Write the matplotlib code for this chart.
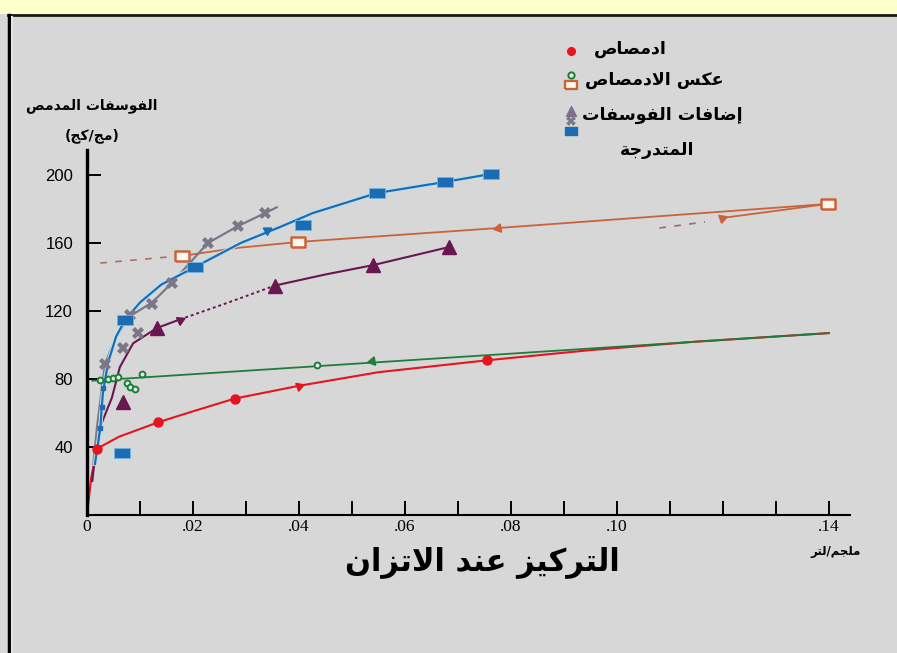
import matplotlib
matplotlib.use("Agg")
import matplotlib.pyplot as plt
from matplotlib.lines import Line2D
from matplotlib.patches import Rectangle
import matplotlib.patheffects as pe

# ---------------- Arabic shaping (presentation forms, visual order) ----------------
FORMS = {
    'ا': ('\uFE8D', '\uFE8E', None, None),
    'إ': ('\uFE87', '\uFE88', None, None),
    'د': ('\uFEA9', '\uFEAA', None, None),
    'ر': ('\uFEAD', '\uFEAE', None, None),
    'ز': ('\uFEAF', '\uFEB0', None, None),
    'و': ('\uFEED', '\uFEEE', None, None),
    'ة': ('\uFE93', '\uFE94', None, None),
    'ج': ('\uFE9D', '\uFE9E', '\uFE9F', '\uFEA0'),
    'ت': ('\uFE95', '\uFE96', '\uFE97', '\uFE98'),
    'س': ('\uFEB1', '\uFEB2', '\uFEB3', '\uFEB4'),
    'ص': ('\uFEB9', '\uFEBA', '\uFEBB', '\uFEBC'),
    'ض': ('\uFEBD', '\uFEBE', '\uFEBF', '\uFEC0'),
    'ع': ('\uFEC9', '\uFECA', '\uFECB', '\uFECC'),
    'ف': ('\uFED1', '\uFED2', '\uFED3', '\uFED4'),
    'ك': ('\uFED9', '\uFEDA', '\uFEDB', '\uFEDC'),
    'ل': ('\uFEDD', '\uFEDE', '\uFEDF', '\uFEE0'),
    'م': ('\uFEE1', '\uFEE2', '\uFEE3', '\uFEE4'),
    'ن': ('\uFEE5', '\uFEE6', '\uFEE7', '\uFEE8'),
    'ي': ('\uFEF1', '\uFEF2', '\uFEF3', '\uFEF4'),
}
LAM_ALEF = {'ا': ('\uFEFB', '\uFEFC'), 'إ': ('\uFEF9', '\uFEFA')}
MIRROR = {'(': ')', ')': '('}


def shape(text):
    units = []
    i = 0
    while i < len(text):
        c = text[i]
        if c == 'ل' and i + 1 < len(text) and text[i + 1] in LAM_ALEF:
            iso, fin = LAM_ALEF[text[i + 1]]
            units.append(('LA', (iso, fin, None, None)))
            i += 2
            continue
        units.append((c, FORMS.get(c)))
        i += 1
    out = []
    for k, (c, f) in enumerate(units):
        if f is None:
            out.append(MIRROR.get(c, c))
            continue
        prev = units[k - 1][1] if k > 0 else None
        nxt = units[k + 1][1] if k + 1 < len(units) else None
        join_prev = prev is not None and prev[2] is not None
        join_next = f[2] is not None and nxt is not None
        if join_prev and join_next:
            g = f[3]
        elif join_prev:
            g = f[1]
        elif join_next:
            g = f[2]
        else:
            g = f[0]
        out.append(g)
    return ''.join(reversed(out))


# ---------------- data ----------------
# adsorption (red)
ads_x = [0.0019, 0.0134, 0.0279, 0.0755]
ads_y = [39, 54.5, 68.5, 91]
ads_curve_x = [0.0, 0.0008, 0.0019, 0.006, 0.0134, 0.020, 0.0279, 0.040, 0.055, 0.0755, 0.095, 0.115, 0.140]
ads_curve_y = [0, 22, 39, 46, 54.5, 61, 68.5, 76, 84, 91, 97, 102, 107]

# desorption (green)
des_x = [0.00245, 0.0040, 0.0049, 0.0058, 0.0104, 0.0075, 0.0081, 0.0091, 0.0434]
des_y = [79.4, 80.0, 80.6, 81.2, 82.9, 77.6, 75.3, 74.1, 88.2]
des_line_x = [0.001, 0.140]
des_line_y = [79, 107]

# desorption after additions (orange)
ord_x = [0.0179, 0.0398, 0.1398]
ord_y = [152.4, 160.6, 183]
ord_dash_x = [0.0025, 0.0175]
ord_dash_y = [148.2, 152.4]
ord_line_x = [0.0179, 0.028, 0.0398, 0.0775, 0.1398]
ord_line_y = [152.4, 157, 160.6, 168.8, 183]
ord_low_dash_x = [0.108, 0.1166]
ord_low_dash_y = [168.8, 172.4]
ord_low_x = [0.1198, 0.1398]
ord_low_y = [174.7, 183]

# phosphate additions (purple triangles)
add_x = [0.0068, 0.0132, 0.0355, 0.054, 0.0683]
add_y = [66.5, 110, 135, 147, 157.6]
add_curve_x = [0.001, 0.0015, 0.0025, 0.0047, 0.0062, 0.0087, 0.0132, 0.0175]
add_curve_y = [20, 34, 52, 69, 87, 101, 110, 115]
add_dot_x = [0.0175, 0.0264, 0.0355]
add_dot_y = [115, 124.7, 135]
add_tail_x = [0.0355, 0.045, 0.054, 0.0683]
add_tail_y = [135, 141.5, 147, 157.6]

# phosphate additions (gray crosses)
crs_x = [0.0034, 0.0068, 0.0081, 0.0096, 0.0123, 0.016, 0.0228, 0.0285, 0.0336]
crs_y = [89, 98, 117.6, 107, 124.1, 136.5, 160, 170, 177.6]
crs_curve_x = [0.0012, 0.0019, 0.0034, 0.0055, 0.0081, 0.0123, 0.016, 0.0228, 0.0285, 0.0336, 0.0358]
crs_curve_y = [30, 52, 89, 105, 117, 125, 136.5, 160, 170, 177.6, 181]

# graded (blue)
grd_x = [0.0066, 0.0072, 0.0204, 0.0408, 0.0547, 0.0675, 0.0762]
grd_y = [36.5, 114.7, 145.9, 170.6, 189.4, 195.9, 200.6]
grd_small_x = [0.0025, 0.0028, 0.0030]
grd_small_y = [51, 63.5, 74.7]
grd_curve_x = [0.0015, 0.0025, 0.0030, 0.0040, 0.0055, 0.0072, 0.0100, 0.0140, 0.0204,
               0.0290, 0.0364, 0.0426, 0.0547, 0.0675, 0.0762]
grd_curve_y = [30, 51, 72, 90, 105, 114.7, 125, 135.5, 145.9, 160, 169.4, 177.6, 189.4, 195.9, 200.6]

# direction arrowheads along curves: (x, y, angle in degrees)
arrows_red = [(0.040, 76, 20)]
arrows_green = [(0.0538, 90.5, 190)]
arrows_orange = [(0.0775, 168.8, 190), (0.1198, 174.7, 20)]
arrows_purple = [(0.0175, 115, 25)]
arrows_blue = [(0.034, 167.5, 30)]

x_ticks = [0.01 * i for i in range(1, 15)]
x_tick_labels = {0.0: '0', 0.02: '.02', 0.04: '.04', 0.06: '.06', 0.08: '.08', 0.10: '.10', 0.14: '.14'}
y_ticks = [40, 80, 120, 160, 200]

legend_rows = ['ادمصاص', 'عكس الادمصاص', 'إضافات الفوسفات', 'المتدرجة']
y_title = ['الفوسفات المدمص', '(مج/كج)']
x_title = 'التركيز عند الاتزان'
x_unit = 'ملجم/لتر'

# ---------------- colours ----------------
RED = '#E5141F'
GREEN = '#1F7D3C'
ORANGE = '#C9633A'
PURPLE = '#6A1650'
GRAY = '#7B7787'
BLUE = '#1A6CB3'
BG = '#D7D7D7'

W, H = 897, 653
fig = plt.figure(figsize=(W / 100, H / 100), dpi=100, facecolor=BG)


def fx(px):
    return px / W


def fy(py):
    return 1 - py / H


# frame decoration
fig.patches.append(Rectangle((0, fy(14)), 1, 14 / H, transform=fig.transFigure,
                             facecolor='#FFFFCC', edgecolor='none', zorder=0))
fig.add_artist(Line2D([fx(8), 1], [fy(15), fy(15)], color='#1A1A10', lw=2.0))
fig.add_artist(Line2D([fx(8.5), fx(8.5)], [0, fy(15)], color='black', lw=2.5))
fig.add_artist(Line2D([fx(12), fx(12)], [0, fy(17)], color='#E6E6E6', lw=1.5))

# axes: x from 0 (px 87) to 0.144 (px 850); y from 0 (px 515) to 215 (px 150)
x0, x1, y0, y1 = 87, 850, 515, 150
ax = fig.add_axes([fx(x0), fy(y0), (x1 - x0) / W, (y0 - y1) / H])
ax.set_facecolor('none')
ax.set_xlim(0, (x1 - x0) / 5300.0)
ax.set_ylim(0, (y0 - y1) / 1.7)
for s in ['top', 'right']:
    ax.spines[s].set_visible(False)
ax.spines['left'].set_linewidth(2.4)
ax.spines['bottom'].set_linewidth(1.5)

ax.set_xticks([0.0] + x_ticks)
labels = []
for t in [0.0] + x_ticks:
    lab = ''
    for k, v in x_tick_labels.items():
        if abs(k - t) < 1e-9:
            lab = v
    labels.append(lab)
ax.set_xticklabels(labels, fontfamily='Liberation Serif', fontsize=12.5)
ax.tick_params(axis='x', direction='in', length=10, width=1.4, pad=3)
ax.xaxis.get_major_ticks()[0].tick1line.set_visible(False)
ax.set_yticks(y_ticks)
ax.set_yticklabels([str(v) for v in y_ticks], fontfamily='Liberation Sans', fontsize=12)
ax.tick_params(axis='y', direction='in', length=10, width=1.4, pad=10)

# ---------------- curves ----------------
halo = [pe.Stroke(linewidth=3.0, foreground='#BFE3F2'), pe.Normal()]
ax.plot(ads_curve_x, ads_curve_y, color=RED, lw=1.5, zorder=2)
ax.plot(des_line_x, des_line_y, color=GREEN, lw=1.3, zorder=2)
ax.plot(ord_dash_x, ord_dash_y, color='#B07060', lw=1.2, ls=(0, (4, 5)), zorder=2)
ax.plot(ord_line_x, ord_line_y, color=ORANGE, lw=1.3, zorder=2)
ax.plot(ord_low_dash_x, ord_low_dash_y, color='#A06A60', lw=1.2, ls=(0, (4, 5)), zorder=2)
ax.plot(ord_low_x, ord_low_y, color=ORANGE, lw=1.3, zorder=2)
ax.plot(add_curve_x, add_curve_y, color=PURPLE, lw=1.5, zorder=2)
ax.plot(add_dot_x, add_dot_y, color=PURPLE, lw=1.4, ls=(0, (1.5, 1.5)), zorder=2)
ax.plot(add_tail_x, add_tail_y, color=PURPLE, lw=1.5, zorder=2)
ax.plot(crs_curve_x, crs_curve_y, color=GRAY, lw=1.6, zorder=2)
ax.plot(grd_curve_x, grd_curve_y, color=BLUE, lw=1.6, zorder=3, path_effects=halo)

# ---------------- markers ----------------
rect = [(-1, -0.68), (1, -0.68), (1, 0.68), (-1, 0.68), (-1, -0.68)]
ax.plot(ads_x, ads_y, 'o', color=RED, ms=6.5, mec=RED, zorder=5, ls='none')
ax.plot(des_x, des_y, 'o', mfc='#E0F0E0', mec=GREEN, ms=4.2, mew=1.4, zorder=5, ls='none')
ax.plot(ord_x, ord_y, marker=rect, mfc='#FFF8F0', mec=ORANGE, ms=10.5, mew=1.8, zorder=5, ls='none')
ax.plot(add_x, add_y, '^', color=PURPLE, ms=10, zorder=5, ls='none')
ax.plot(crs_x, crs_y, 'X', color=GRAY, ms=9, mew=0, zorder=4, ls='none')
ax.plot(grd_x, grd_y, marker=rect, color=BLUE, mec='#6FB6E0', mew=0.6, ms=11, zorder=5, ls='none')
ax.plot(grd_small_x, grd_small_y, 's', color=BLUE, ms=3.5, zorder=5, ls='none')

for group, col in [(arrows_red, RED), (arrows_green, GREEN), (arrows_orange, ORANGE),
                   (arrows_purple, PURPLE), (arrows_blue, BLUE)]:
    for (xa, ya, ang) in group:
        ax.plot([xa], [ya], marker=(3, 0, ang - 90), color=col, ms=7, zorder=5, ls='none')

# ---------------- legend ----------------
AR = ['DejaVu Sans']
lx = fx(571)
fig.add_artist(Line2D([lx], [fy(51)], marker='o', color=RED, ms=5.5, ls='none'))
fig.add_artist(Line2D([lx], [fy(75)], marker='o', mfc='#E0F0E0', mec=GREEN, ms=4.5, mew=1.4, ls='none'))
fig.add_artist(Line2D([lx], [fy(85)], marker=rect, mfc='#FFF8F0', mec=ORANGE, ms=8, mew=1.7, ls='none'))
fig.add_artist(Line2D([lx], [fy(111)], marker='^', color='#7E6E90', ms=6.5, ls='none'))
fig.add_artist(Line2D([lx], [fy(121)], marker='X', color=GRAY, ms=6.5, mew=0, ls='none'))
fig.add_artist(Line2D([lx], [fy(131)], marker=rect, color=BLUE, ms=8, ls='none'))

LFS = 12.5
fig.text(fx(594), fy(49), shape(legend_rows[0]), family=AR, weight='bold', fontsize=LFS,
         ha='left', va='center')
fig.text(fx(585), fy(80), shape(legend_rows[1]), family=AR, weight='bold', fontsize=LFS,
         ha='left', va='center')
fig.text(fx(582), fy(115), shape(legend_rows[2]), family=AR, weight='bold', fontsize=LFS,
         ha='left', va='center')
fig.text(fx(657), fy(150), shape(legend_rows[3]), family=AR, weight='bold', fontsize=LFS,
         ha='center', va='center')

# ---------------- axis titles ----------------
fig.text(fx(92), fy(106), shape(y_title[0]), family=AR, weight='bold', fontsize=10,
         ha='center', va='center')
fig.text(fx(92), fy(136), shape(y_title[1]), family=AR, weight='bold', fontsize=10,
         ha='center', va='center')
fig.text(fx(482), fy(562), shape(x_title), family=AR, weight='bold', fontsize=22,
         ha='center', va='center')
fig.text(fx(836), fy(551), shape(x_unit), family=AR, weight='bold', fontsize=8.5,
         ha='center', va='center')

fig.savefig('out.png', dpi=100, facecolor=BG)
